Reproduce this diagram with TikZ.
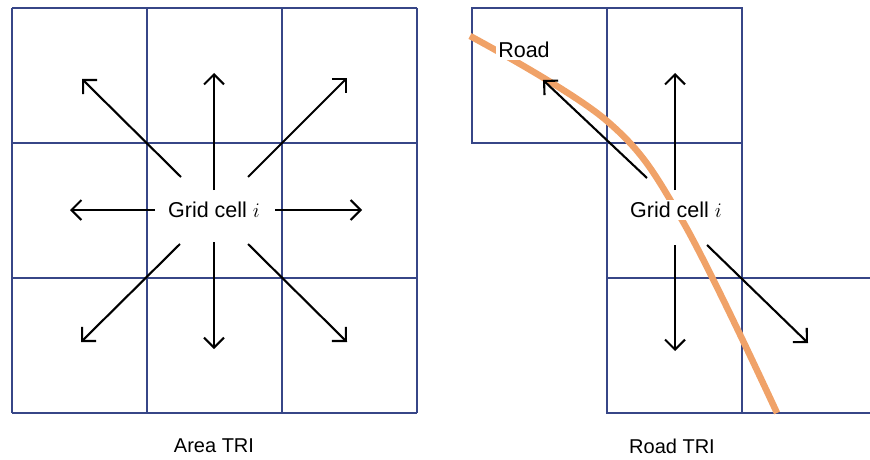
\documentclass[tikz,border=0pt]{standalone}
\usepackage{fontspec}
\setmainfont{Liberation Sans}
\usetikzlibrary{arrows.meta}
\definecolor{gridblue}{RGB}{55,70,135}
\definecolor{roadorange}{RGB}{240,162,104}
\begin{document}
\begin{tikzpicture}[x=1pt,y=-1pt,
  cellline/.style={draw=gridblue,line width=2.2pt},
  move/.style={line width=2.1pt,-{Straight Barb[length=10pt,width=20pt]}},
  celltext/.style={font=\fontsize{21.5}{24}\selectfont,fill=white,inner sep=2pt},
  caption/.style={font=\fontsize{20}{23}\selectfont}]
\useasboundingbox (0,0) rectangle (870,460);

% ---- Area TRI: full 3x3 neighbourhood ----
\foreach \x in {12,147,282,417} \draw[cellline] (\x,8) -- (\x,413);
\foreach \y in {8,143,278,413} \draw[cellline] (12,\y) -- (417,\y);

% ---- Road TRI: cells along the road ----
\draw[cellline] (472,8) rectangle (742,143);
\draw[cellline] (607,8) -- (607,413) -- (870,413);
\draw[cellline] (742,143) -- (742,413);
\draw[cellline] (607,278) -- (870,278);

% road
\draw[roadorange,line width=6.5pt] plot[smooth,tension=0.6] coordinates
  {(470,36) (607,121) (682,220) (777,413)};

% labels
\node[celltext] (gcA) at (214,210) {Grid cell $i$};
\node[celltext] (gcR) at (676,210) {Grid cell $i$};
\node[celltext] (road) at (524,50) {Road};
\node[caption] (capA) at (214,446) {Area TRI};
\node[caption] (capR) at (672,446) {Road TRI};

% arrow end points, Area TRI
\coordinate (aNt) at (214,190); \coordinate (aNh) at (214,73);
\coordinate (aSt) at (214,242); \coordinate (aSh) at (214,349);
\coordinate (aWt) at (155,210); \coordinate (aWh) at (70,210);
\coordinate (aEt) at (275,210); \coordinate (aEh) at (362,210);
\coordinate (aNWt) at (181,177); \coordinate (aNWh) at (82,79);
\coordinate (aNEt) at (248,177); \coordinate (aNEh) at (347,78);
\coordinate (aSWt) at (180,244); \coordinate (aSWh) at (81,342);
\coordinate (aSEt) at (248,244); \coordinate (aSEh) at (347,342);

\foreach \d in {N,S,W,E,NW,NE,SW,SE} \draw[move] (a\d t) -- (a\d h);

% arrow end points, Road TRI
\coordinate (rNt) at (675,190); \coordinate (rNh) at (675,73);
\coordinate (rSt) at (675,245); \coordinate (rSh) at (675,351);
\coordinate (rNWt) at (647,178); \coordinate (rNWh) at (543,80);
\coordinate (rSEt) at (707,245); \coordinate (rSEh) at (808,343);

\foreach \d in {N,S,NW,SE} \draw[move] (r\d t) -- (r\d h);
\end{tikzpicture}
\end{document}
